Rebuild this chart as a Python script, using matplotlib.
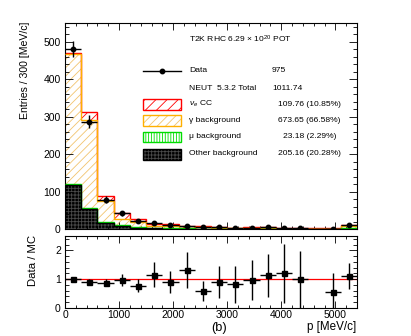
import numpy as np
import matplotlib
matplotlib.use("Agg")
import matplotlib.pyplot as plt
from matplotlib.ticker import MultipleLocator
from matplotlib.patches import Rectangle
from matplotlib.lines import Line2D

plt.rcParams['font.family'] = ['Liberation Sans', 'DejaVu Sans']
plt.rcParams['mathtext.fontset'] = 'custom'
plt.rcParams['mathtext.rm'] = 'Liberation Sans'
plt.rcParams['mathtext.it'] = 'Liberation Sans:italic'
plt.rcParams['hatch.linewidth'] = 0.6

# ---------------- data ----------------
bin_edges = np.arange(0, 5401, 300)
data = np.array([480, 287, 78, 42, 21, 16, 11, 9, 5, 5, 3, 4, 5, 3, 2, 0, 1, 12], dtype=float)
other_bkg = np.array([118, 54, 17, 8, 3, 1.5, 1, 0.5, 0.5, 0.3, 0.2, 0.2, 0.2, 0.1, 0.1, 0.1, 0.1, 0.5])
mu_bkg = np.array([3, 3, 3, 3, 2.5, 1.5, 1, 1, 0.8, 0.6, 0.5, 0.5, 0.4, 0.3, 0.3, 0.2, 0.2, 1.5])
gamma_bkg = np.array([346, 235, 54, 17, 12.5, 5, 5.4, 1.4, 4.3, 2.2, 0.9, 1.4, 1.8, 0.6, 0.6, 0.2, 0.55, 7])
nue_cc = np.array([4, 20, 15, 15, 9, 6, 5, 4, 3, 2.5, 2, 2, 2, 1.5, 1, 1, 1, 2])
ratio = np.array([1.02, 0.92, 0.88, 0.97, 0.77, 1.16, 0.89, 1.31, 0.58, 0.90, 0.83, 0.97,
                  1.14, 1.20, 0.99, np.nan, 0.54, 1.10])
ratio_err = np.array([0.06, 0.07, 0.12, 0.21, 0.22, 0.42, 0.38, 0.63, 0.35, 0.55, 0.64, 0.69,
                      0.75, 1.02, 0.98, np.nan, 0.68, 0.45])

legend_names = [r"$\nu_e$ CC", "γ background", "μ background", "Other background"]
legend_values = ["109.76 (10.85%)", "673.65 (66.58%)", "23.18 (2.29%)", "205.16 (20.28%)"]
data_total = "975"
mc_total = "1011.74"

# ---------------- figure ----------------
W, H = 411, 336
fig = plt.figure(figsize=(W / 100, H / 100), dpi=100)

def fx(x):
    return x / W

def fy(y):
    return 1 - y / H

ax1 = fig.add_axes([fx(65), fy(229), fx(357) - fx(65), fy(23) - fy(229)])
ax2 = fig.add_axes([fx(65), fy(308), fx(357) - fx(65), fy(236) - fy(308)])

centers = 0.5 * (bin_edges[:-1] + bin_edges[1:])
halfw = 0.5 * np.diff(bin_edges)

c0 = other_bkg
c1 = c0 + mu_bkg
c2 = c1 + gamma_bkg
c3 = c2 + nue_cc

RED = '#ff0000'
ORANGE = '#ffb000'
ORANGE_H = '#f2c46e'
GREEN = '#00dd00'
DARKPAT = '#4a4a4a'

# fills
ax1.stairs(c3, bin_edges, baseline=c2, fill=True, facecolor='white', edgecolor=RED,
           hatch='///', linewidth=0, zorder=1)
ax1.stairs(c2, bin_edges, baseline=c1, fill=True, facecolor='white', edgecolor=ORANGE_H,
           hatch='////', linewidth=0, zorder=1)
ax1.stairs(c1, bin_edges, baseline=c0, fill=True, facecolor='white', edgecolor=GREEN,
           hatch='||||||', linewidth=0, zorder=1)
ax1.stairs(c0, bin_edges, baseline=0, fill=True, facecolor='black', edgecolor=DARKPAT,
           hatch='+++++', linewidth=0, zorder=1)
# outlines
ax1.stairs(c3, bin_edges, baseline=None, color=RED, linewidth=1.0, zorder=2)
ax1.stairs(c2, bin_edges, baseline=None, color=ORANGE, linewidth=1.0, zorder=3)
ax1.stairs(c1, bin_edges, baseline=None, color=GREEN, linewidth=1.0, zorder=4)
ax1.stairs(c0, bin_edges, baseline=None, color='black', linewidth=1.0, zorder=5)

m = data > 0
ax1.errorbar(centers[m], data[m], xerr=halfw[m], yerr=np.sqrt(data[m]), fmt='o', color='black',
             ms=3.2, elinewidth=1.0, capsize=0, zorder=6)

ax1.set_xlim(0, 5400)
ax1.set_ylim(0, 550)
ax1.xaxis.set_major_locator(MultipleLocator(1000))
ax1.xaxis.set_minor_locator(MultipleLocator(200))
ax1.yaxis.set_major_locator(MultipleLocator(100))
ax1.yaxis.set_minor_locator(MultipleLocator(20))
ax1.tick_params(which='both', direction='in', top=True, right=True, labelbottom=False,
                labelsize=7.5, width=0.6, pad=3)
ax1.tick_params(axis='y', which='major', length=6)
ax1.tick_params(axis='y', which='minor', length=3)
ax1.tick_params(axis='x', which='major', length=5)
ax1.tick_params(axis='x', which='minor', length=2.5)

# ratio panel
mr = ~np.isnan(ratio)
ax2.axhline(1.0, color=RED, linewidth=0.9, zorder=1)
ax2.errorbar(centers[mr], ratio[mr], xerr=halfw[mr], yerr=ratio_err[mr], fmt='s', color='black',
             ms=3.6, elinewidth=1.0, capsize=0, zorder=3)
ax2.set_xlim(0, 5400)
ax2.set_ylim(0, 2.5)
ax2.xaxis.set_major_locator(MultipleLocator(1000))
ax2.xaxis.set_minor_locator(MultipleLocator(200))
ax2.yaxis.set_major_locator(MultipleLocator(1))
ax2.yaxis.set_minor_locator(MultipleLocator(0.2))
ax2.tick_params(which='both', direction='in', top=True, right=True, labelsize=7.5, width=0.6, pad=3)
ax2.tick_params(axis='x', which='major', length=5, pad=1.5)
ax2.tick_params(axis='x', which='minor', length=2.5)
ax2.tick_params(axis='y', which='major', length=6)
ax2.tick_params(axis='y', which='minor', length=3)

for ax in (ax1, ax2):
    for s in ax.spines.values():
        s.set_linewidth(0.8)

# axis labels
fig.text(fx(25.5), fy(22), "Entries / 300 [MeV/c]", rotation=90, ha='center', va='top', fontsize=7.6)
fig.text(fx(33), fy(235), "Data / MC", rotation=90, ha='center', va='top', fontsize=8.2)
fig.text(fx(356), fy(327), "p [MeV/c]", ha='right', va='center', fontsize=8.4)
fig.text(fx(219), fy(328), "(b)", ha='center', va='center', fontsize=9.2)

# legend / annotation
LS = 6.1
fig.text(fx(189), fy(39), r"T2K RHC 6.29 $\times$ 10$^{20}$ POT", ha='left', va='center', fontsize=LS)
fig.add_artist(Line2D([fx(143), fx(181)], [fy(71), fy(71)], color='black', lw=1.0,
                      transform=fig.transFigure))
fig.add_artist(Line2D([fx(162)], [fy(71)], color='black', marker='o', ms=3.2,
                      transform=fig.transFigure))
fig.text(fx(189), fy(71), "Data", ha='left', va='center', fontsize=LS)
fig.text(fx(272), fy(71), data_total, ha='left', va='center', fontsize=LS)
fig.text(fx(189), fy(88), "NEUT  5.3.2 Total", ha='left', va='center', fontsize=LS)
fig.text(fx(272), fy(88), mc_total, ha='left', va='center', fontsize=LS)

box_ys = [104, 120.5, 137, 154]
box_styles = [
    dict(facecolor='white', edgecolor=RED, hatch='///'),
    dict(facecolor='white', edgecolor=ORANGE_H, hatch='////'),
    dict(facecolor='white', edgecolor=GREEN, hatch='||||||'),
    dict(facecolor='black', edgecolor=DARKPAT, hatch='+++++'),
]
box_edges = [RED, ORANGE, GREEN, 'black']
for yc, st, ec, name, val in zip(box_ys, box_styles, box_edges, legend_names, legend_values):
    x0, x1 = fx(143), fx(181)
    y0, y1 = fy(yc + 5.5), fy(yc - 5.5)
    fig.add_artist(Rectangle((x0, y0), x1 - x0, y1 - y0, transform=fig.transFigure,
                             facecolor=st['facecolor'], edgecolor=st['edgecolor'],
                             hatch=st['hatch'], linewidth=0))
    fig.add_artist(Rectangle((x0, y0), x1 - x0, y1 - y0, transform=fig.transFigure,
                             facecolor='none', edgecolor=ec, linewidth=1.0))
    fig.text(fx(189), fy(yc), name, ha='left', va='center', fontsize=LS)
    fig.text(fx(309.5), fy(yc), val, ha='center', va='center', fontsize=LS)

fig.savefig("out.png", dpi=100)
